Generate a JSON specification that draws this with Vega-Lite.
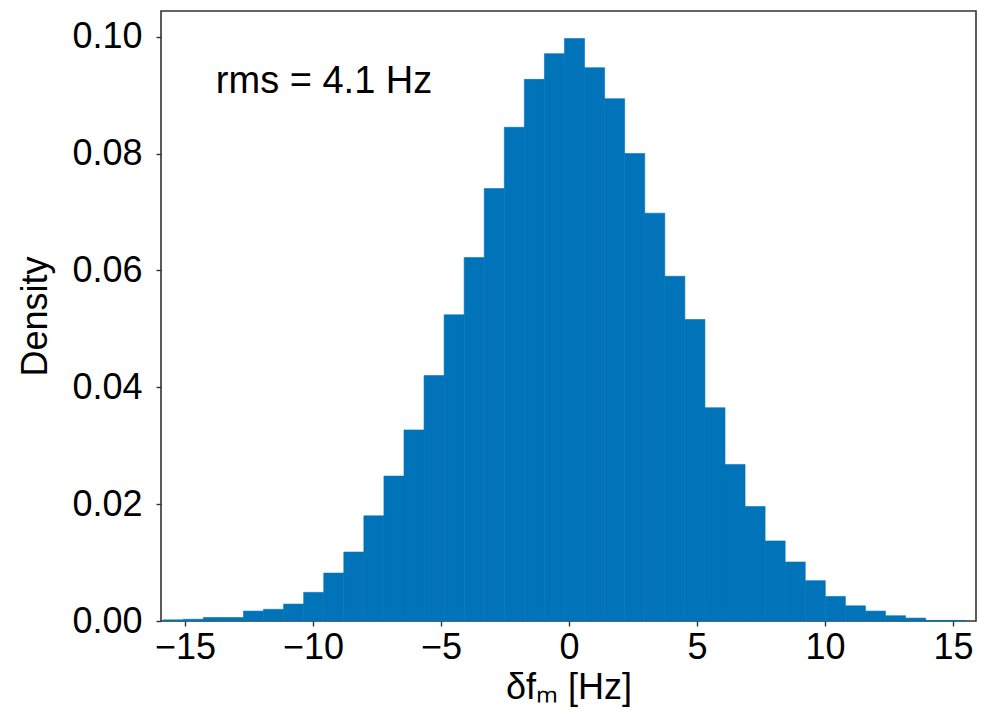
{
  "$schema": "https://vega.github.io/schema/vega-lite/v6.json",
  "width": 815,
  "height": 610,
  "autosize": {"type": "none"},
  "padding": {"left": 161, "top": 11, "right": 5, "bottom": 93},
  "background": "white",
  "config": {
    "font": "Liberation Sans",
    "view": {"stroke": "#333333", "strokeWidth": 1.6},
    "axis": {
      "grid": false,
      "domain": false,
      "tickColor": "#333333",
      "tickWidth": 1.4,
      "tickSize": 5,
      "labelFont": "Liberation Sans",
      "labelFontSize": 36,
      "labelColor": "black",
      "titleFont": "Liberation Sans",
      "titleFontSize": 36,
      "titleFontWeight": "normal",
      "titleColor": "black"
    }
  },
  "layer": [
    {
      "data": {
        "values": [
          {"start": -15.853, "end": -15.069, "density": 0.0002},
          {"start": -15.069, "end": -14.285, "density": 0.0003},
          {"start": -14.285, "end": -13.501, "density": 0.0006},
          {"start": -13.501, "end": -12.717, "density": 0.0006},
          {"start": -12.717, "end": -11.934, "density": 0.0017},
          {"start": -11.934, "end": -11.150, "density": 0.0020},
          {"start": -11.150, "end": -10.366, "density": 0.0029},
          {"start": -10.366, "end": -9.582, "density": 0.0049},
          {"start": -9.582, "end": -8.798, "density": 0.0082},
          {"start": -8.798, "end": -8.015, "density": 0.0118},
          {"start": -8.015, "end": -7.231, "density": 0.0180},
          {"start": -7.231, "end": -6.447, "density": 0.0248},
          {"start": -6.447, "end": -5.663, "density": 0.0327},
          {"start": -5.663, "end": -4.879, "density": 0.0420},
          {"start": -4.879, "end": -4.096, "density": 0.0524},
          {"start": -4.096, "end": -3.312, "density": 0.0622},
          {"start": -3.312, "end": -2.528, "density": 0.0740},
          {"start": -2.528, "end": -1.744, "density": 0.0845},
          {"start": -1.744, "end": -0.960, "density": 0.0927},
          {"start": -0.960, "end": -0.177, "density": 0.0971},
          {"start": -0.177, "end": 0.607, "density": 0.0997},
          {"start": 0.607, "end": 1.391, "density": 0.0947},
          {"start": 1.391, "end": 2.175, "density": 0.0894},
          {"start": 2.175, "end": 2.959, "density": 0.0800},
          {"start": 2.959, "end": 3.742, "density": 0.0698},
          {"start": 3.742, "end": 4.526, "density": 0.0590},
          {"start": 4.526, "end": 5.310, "density": 0.0516},
          {"start": 5.310, "end": 6.094, "density": 0.0365},
          {"start": 6.094, "end": 6.878, "density": 0.0268},
          {"start": 6.878, "end": 7.661, "density": 0.0196},
          {"start": 7.661, "end": 8.445, "density": 0.0137},
          {"start": 8.445, "end": 9.229, "density": 0.0101},
          {"start": 9.229, "end": 10.013, "density": 0.0069},
          {"start": 10.013, "end": 10.797, "density": 0.0042},
          {"start": 10.797, "end": 11.580, "density": 0.0026},
          {"start": 11.580, "end": 12.364, "density": 0.0017},
          {"start": 12.364, "end": 13.148, "density": 0.0009},
          {"start": 13.148, "end": 13.932, "density": 0.0005},
          {"start": 13.932, "end": 14.716, "density": 0.0001},
          {"start": 14.716, "end": 15.500, "density": 0.0001}
        ]
      },
      "mark": {"type": "rect", "color": "#0173b9", "stroke": "#0173b9", "strokeWidth": 0.6},
      "encoding": {
        "x": {
          "field": "start",
          "type": "quantitative",
          "scale": {"domain": [-15.94, 15.9], "nice": false, "zero": false},
          "axis": {"values": [-15, -10, -5, 0, 5, 10, 15], "format": "d", "labelPadding": 4, "titlePadding": 5},
          "title": "δfₘ [Hz]"
        },
        "x2": {"field": "end"},
        "y": {
          "field": "density",
          "type": "quantitative",
          "scale": {"domain": [0, 0.1044], "nice": false},
          "axis": {"values": [0, 0.02, 0.04, 0.06, 0.08, 0.1], "format": ".2f", "labelPadding": 14, "titlePadding": 17},
          "title": "Density"
        },
        "y2": {"datum": 0}
      }
    },
    {
      "data": {"values": [{"x": -9.57, "y": 0.0923, "label": "rms = 4.1 Hz"}]},
      "mark": {"type": "text", "fontSize": 38, "font": "Liberation Sans", "color": "black", "align": "center", "baseline": "middle"},
      "encoding": {
        "x": {"field": "x", "type": "quantitative"},
        "y": {"field": "y", "type": "quantitative"},
        "text": {"field": "label"}
      }
    }
  ]
}
